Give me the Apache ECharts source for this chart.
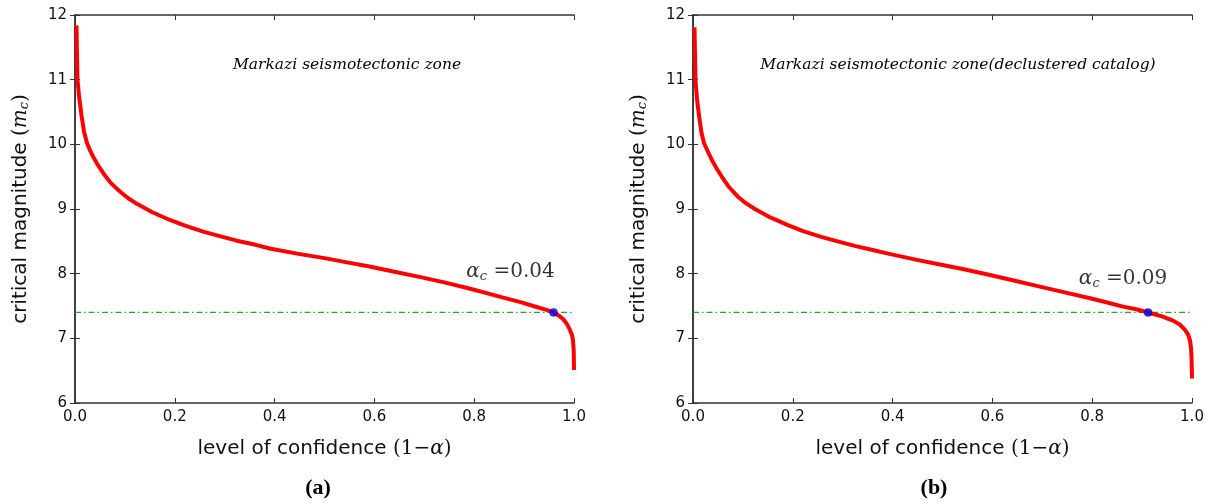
<!DOCTYPE html>
<html>
<head>
<meta charset="utf-8">
<script src="https://cdn.jsdelivr.net/npm/echarts@6/dist/echarts.min.js"></script>
<style>html,body{margin:0;padding:0;background:#fff;}#c{width:1215px;height:504px;}</style>
</head>
<body>
<div id="c"></div>
<script>
// ---- data ----
var xTicks = [0.0, 0.2, 0.4, 0.6, 0.8, 1.0];
var yTicks = [6, 7, 8, 9, 10, 11, 12];
var panelTitles = ['Markazi seismotectonic zone', 'Markazi seismotectonic zone(declustered catalog)'];
var panelLetters = ['(a)', '(b)'];
var alphaC = ['0.04', '0.09'];
var thresholdMagnitude = 7.4;

var curveA = [[0.003,11.84],[0.0035,11.6],[0.004,11.4],[0.005,11.0],[0.0065,10.88],[0.008,10.75],[0.0105,10.6],[0.013,10.45],[0.018,10.2],[0.024,10.02],[0.03,9.91],[0.037,9.8],[0.045,9.69],[0.057,9.55],[0.072,9.4],[0.09,9.27],[0.106,9.17],[0.124,9.08],[0.155,8.95],[0.19,8.83],[0.222,8.74],[0.257,8.65],[0.29,8.58],[0.324,8.51],[0.36,8.45],[0.39,8.39],[0.445,8.31],[0.5,8.24],[0.545,8.175],[0.59,8.11],[0.64,8.03],[0.69,7.95],[0.74,7.865],[0.79,7.77],[0.825,7.7],[0.858,7.63],[0.893,7.56],[0.925,7.485],[0.945,7.44],[0.959,7.40],[0.97,7.35],[0.979,7.29],[0.986,7.22],[0.992,7.13],[0.996,7.05],[0.998,6.97],[0.9995,6.8],[1.0,6.51]];
var curveB = [[0.003,11.81],[0.0035,11.6],[0.004,11.4],[0.005,11.0],[0.0065,10.85],[0.008,10.7],[0.01,10.57],[0.012,10.45],[0.017,10.18],[0.022,10.02],[0.029,9.9],[0.037,9.77],[0.047,9.63],[0.057,9.51],[0.072,9.34],[0.09,9.19],[0.106,9.09],[0.124,9.0],[0.155,8.87],[0.19,8.75],[0.222,8.655],[0.257,8.57],[0.29,8.5],[0.324,8.43],[0.36,8.365],[0.391,8.31],[0.451,8.21],[0.5,8.135],[0.545,8.065],[0.595,7.98],[0.645,7.89],[0.695,7.80],[0.745,7.71],[0.796,7.62],[0.83,7.555],[0.862,7.49],[0.89,7.445],[0.912,7.40],[0.94,7.34],[0.963,7.27],[0.976,7.21],[0.986,7.13],[0.992,7.06],[0.996,6.97],[0.998,6.85],[0.999,6.72],[1.0,6.38]];
var criticalPoints = [[0.959, 7.40], [0.912, 7.40]];

// ---- chart ----
var grids = [
  {left: 75, top: 15, width: 499, height: 388},
  {left: 693, top: 15, width: 499, height: 388}
];
var axisColor = '#333';
var xAxes = [], yAxes = [], series = [];
var curves = [curveA, curveB];
var labelOffsets = [[-43, -20], [-25, -13]];

function xAxisDef(g, pos, show) {
  return {
    type: 'value', gridIndex: g, position: pos, min: 0, max: 1, interval: 0.2,
    axisLine: {show: true, lineStyle: {color: axisColor, width: 1.5}},
    axisTick: {show: true, inside: true, length: 5, lineStyle: {color: axisColor, width: 1}},
    axisLabel: {show: show, margin: 7, fontFamily: 'DejaVu Sans', fontSize: 15, color: '#111',
      formatter: function (v) { return v.toFixed(1); }},
    splitLine: {show: false}
  };
}
function yAxisDef(g, pos, show) {
  return {
    type: 'value', gridIndex: g, position: pos, min: yTicks[0], max: yTicks[yTicks.length - 1], interval: 1,
    axisLine: {show: true, lineStyle: {color: axisColor, width: 1.5}},
    axisTick: {show: true, inside: true, length: 5, lineStyle: {color: axisColor, width: 1}},
    axisLabel: {show: show, margin: 8, fontFamily: 'DejaVu Sans', fontSize: 15, color: '#111'},
    splitLine: {show: false}
  };
}

for (var g = 0; g < 2; g++) {
  var xb = xAxisDef(g, 'bottom', true);
  xb.name = '{t|level of confidence }{m|(1−}{a|α}{m|)}';
  xb.nameLocation = 'middle';
  xb.nameGap = 36;
  xb.nameTextStyle = {rich: {
    t: {fontFamily: 'DejaVu Sans', fontSize: 20, color: '#111'},
    m: {fontFamily: 'DejaVu Serif', fontSize: 20, color: '#111'},
    a: {fontFamily: 'DejaVu Serif', fontStyle: 'italic', fontSize: 20, color: '#111'}
  }};
  xAxes.push(xb);
  xAxes.push(xAxisDef(g, 'top', false));
  var yl = yAxisDef(g, 'left', true);
  yl.name = '{t|critical magnitude }{m|(}{a|m}{s|c}{m|)}';
  yl.nameLocation = 'middle';
  yl.nameGap = 44;
  yl.nameRotate = 90;
  yl.nameTextStyle = {rich: {
    t: {fontFamily: 'DejaVu Sans', fontSize: 20, color: '#111'},
    m: {fontFamily: 'DejaVu Serif', fontSize: 20, color: '#111'},
    a: {fontFamily: 'DejaVu Serif', fontStyle: 'italic', fontSize: 20, color: '#111'},
    s: {fontFamily: 'DejaVu Serif', fontStyle: 'italic', fontSize: 13, color: '#111', verticalAlign: 'bottom', padding: [8, 0, 0, 0]}
  }};
  yAxes.push(yl);
  yAxes.push(yAxisDef(g, 'right', false));

  series.push({
    type: 'line', xAxisIndex: 2 * g, yAxisIndex: 2 * g,
    data: [[0, thresholdMagnitude], [1, thresholdMagnitude]],
    symbol: 'none', silent: true,
    lineStyle: {color: '#2ca02c', width: 1.2, type: [6, 3, 1.5, 3]},
    z: 1
  });
  series.push({
    type: 'line', xAxisIndex: 2 * g, yAxisIndex: 2 * g,
    data: curves[g], symbol: 'none', smooth: false,
    lineStyle: {color: '#ff0000', width: 4, join: 'round', cap: 'butt'},
    z: 2
  });
  series.push({
    type: 'scatter', xAxisIndex: 2 * g, yAxisIndex: 2 * g,
    data: [criticalPoints[g]], symbolSize: 8,
    itemStyle: {color: '#0000ff', borderColor: '#000066', borderWidth: 0.5},
    label: {
      show: true, position: 'top', offset: labelOffsets[g],
      formatter: '{a|α}{s|c}{e| =' + alphaC[g] + '}',
      rich: {
        a: {fontFamily: 'DejaVu Serif', fontStyle: 'italic', fontSize: 20, color: '#000'},
        s: {fontFamily: 'DejaVu Serif', fontStyle: 'italic', fontSize: 13, color: '#000', verticalAlign: 'bottom', padding: [10, 0, 0, 0]},
        e: {fontFamily: 'DejaVu Serif', fontSize: 20, color: '#000'}
      }
    },
    z: 3
  });
}

var titleStyle = {fontFamily: 'DejaVu Serif', fontStyle: 'italic', fontWeight: 'normal', fontSize: 15.5, color: '#000'};
var letterStyle = {fontFamily: 'Liberation Serif', fontWeight: 'bold', fontSize: 22, color: '#000'};
var option = {
  backgroundColor: '#fff',
  animation: false,
  grid: grids,
  xAxis: xAxes,
  yAxis: yAxes,
  series: series,
  title: [
    {text: panelTitles[0], left: 342, top: 52, textAlign: 'center', textStyle: titleStyle},
    {text: panelTitles[1], left: 953, top: 52, textAlign: 'center', textStyle: titleStyle},
    {text: panelLetters[0], left: 313, top: 472, textAlign: 'center', textStyle: letterStyle},
    {text: panelLetters[1], left: 929, top: 472, textAlign: 'center', textStyle: letterStyle}
  ]
};
var chart = echarts.init(document.getElementById('c'), null, {renderer: 'canvas'});
chart.setOption(option);
</script>
</body>
</html>
